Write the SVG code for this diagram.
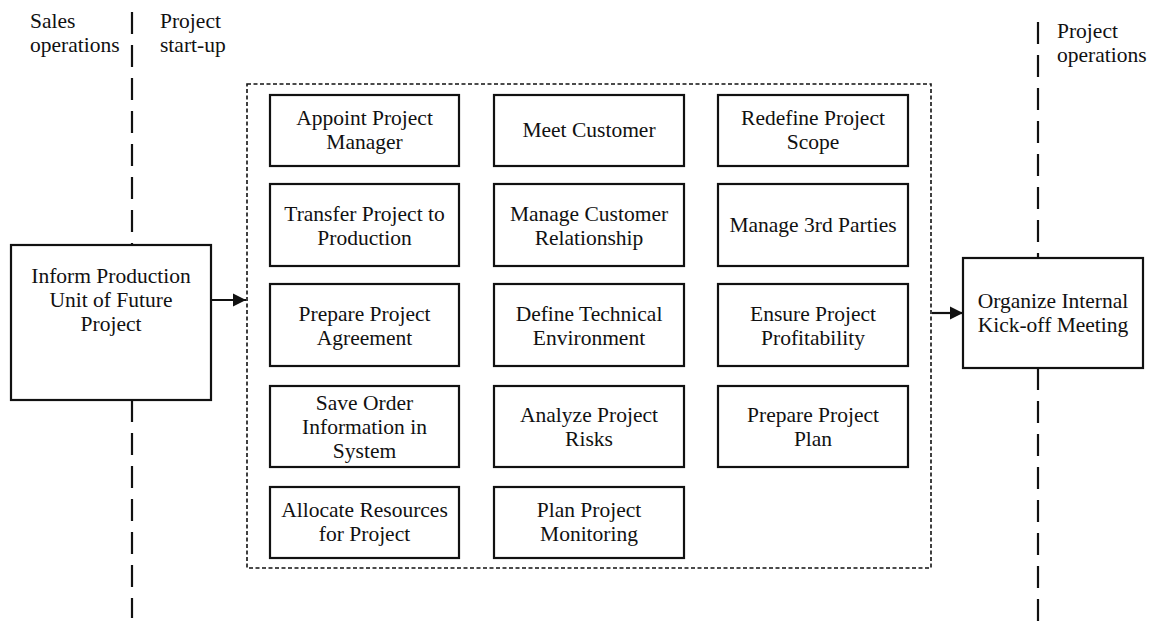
<svg xmlns="http://www.w3.org/2000/svg" width="1150" height="625" viewBox="0 0 1150 625">
  <defs>
    <style>
      text { font-family: "Liberation Serif", "Times New Roman", serif; font-size: 21.5px; fill: #111; }
      .c { text-anchor: middle; }
      .box { fill: #fff; stroke: #111; stroke-width: 2.2; }
      .lane { stroke: #111; stroke-width: 2.2; stroke-dasharray: 22 11; fill: none; }
      .group { fill: none; stroke: #111; stroke-width: 1.6; stroke-dasharray: 4 2.5; }
      .arrow { stroke: #111; stroke-width: 2.2; fill: none; marker-end: url(#head); }
    </style>
    <marker id="head" viewBox="0 0 10 10" refX="10" refY="5" markerWidth="6" markerHeight="6" markerUnits="strokeWidth" orient="auto">
      <path d="M0,0 L10,5 L0,10 Z" fill="#111"/>
    </marker>
  </defs>

  <rect width="1150" height="625" fill="#fff"/>

  <!-- phase boundaries -->
  <g id="lanes">
    <line class="lane" x1="132" y1="12" x2="132" y2="245"/>
    <line class="lane" x1="132" y1="400" x2="132" y2="618"/>
    <line class="lane" x1="1038" y1="22" x2="1038" y2="258"/>
    <line class="lane" x1="1038" y1="368" x2="1038" y2="625"/>
  </g>

  <!-- phase labels -->
  <g id="labels">
    <text x="30" y="28">Sales</text>
    <text x="30" y="52">operations</text>
    <text x="160" y="28">Project</text>
    <text x="160" y="52">start-up</text>
    <text x="1057" y="38">Project</text>
    <text x="1057" y="62">operations</text>
  </g>

  <!-- start-up activity group -->
  <rect id="startup-group" class="group" x="247" y="84" width="684" height="484"/>

  <g id="connectors">
    <line class="arrow" x1="212" y1="300" x2="246" y2="300"/>
    <line class="arrow" x1="932" y1="313" x2="963" y2="313"/>
  </g>

  <g id="inform-production">
    <rect class="box" x="11" y="245" width="200" height="155"/>
    <text class="c" x="111" y="283">Inform Production</text>
    <text class="c" x="111" y="307">Unit of Future</text>
    <text class="c" x="111" y="331">Project</text>
  </g>

  <g id="kickoff-meeting">
    <rect class="box" x="963" y="258" width="180" height="110"/>
    <text class="c" x="1053" y="308">Organize Internal</text>
    <text class="c" x="1053" y="332">Kick-off Meeting</text>
  </g>

  <!-- column 1 -->
  <g id="appoint-pm">
    <rect class="box" x="270" y="95" width="189" height="71"/>
    <text class="c" x="364.5" y="125">Appoint Project</text>
    <text class="c" x="364.5" y="149">Manager</text>
  </g>
  <g id="transfer-project">
    <rect class="box" x="270" y="184" width="189" height="82"/>
    <text class="c" x="364.5" y="221">Transfer Project to</text>
    <text class="c" x="364.5" y="245">Production</text>
  </g>
  <g id="prepare-agreement">
    <rect class="box" x="270" y="284" width="189" height="82"/>
    <text class="c" x="364.5" y="321">Prepare Project</text>
    <text class="c" x="364.5" y="345">Agreement</text>
  </g>
  <g id="save-order">
    <rect class="box" x="270" y="386" width="189" height="81"/>
    <text class="c" x="364.5" y="410">Save Order</text>
    <text class="c" x="364.5" y="434">Information in</text>
    <text class="c" x="364.5" y="458">System</text>
  </g>
  <g id="allocate-resources">
    <rect class="box" x="270" y="487" width="189" height="71"/>
    <text class="c" x="364.5" y="517">Allocate Resources</text>
    <text class="c" x="364.5" y="541">for Project</text>
  </g>

  <!-- column 2 -->
  <g id="meet-customer">
    <rect class="box" x="494" y="95" width="190" height="71"/>
    <text class="c" x="589" y="137">Meet Customer</text>
  </g>
  <g id="manage-relationship">
    <rect class="box" x="494" y="184" width="190" height="82"/>
    <text class="c" x="589" y="221">Manage Customer</text>
    <text class="c" x="589" y="245">Relationship</text>
  </g>
  <g id="define-environment">
    <rect class="box" x="494" y="284" width="190" height="82"/>
    <text class="c" x="589" y="321">Define Technical</text>
    <text class="c" x="589" y="345">Environment</text>
  </g>
  <g id="analyze-risks">
    <rect class="box" x="494" y="386" width="190" height="81"/>
    <text class="c" x="589" y="422">Analyze Project</text>
    <text class="c" x="589" y="446">Risks</text>
  </g>
  <g id="plan-monitoring">
    <rect class="box" x="494" y="487" width="190" height="71"/>
    <text class="c" x="589" y="517">Plan Project</text>
    <text class="c" x="589" y="541">Monitoring</text>
  </g>

  <!-- column 3 -->
  <g id="redefine-scope">
    <rect class="box" x="718" y="95" width="190" height="71"/>
    <text class="c" x="813" y="125">Redefine Project</text>
    <text class="c" x="813" y="149">Scope</text>
  </g>
  <g id="manage-3rd-parties">
    <rect class="box" x="718" y="184" width="190" height="82"/>
    <text class="c" x="813" y="232">Manage 3rd Parties</text>
  </g>
  <g id="ensure-profitability">
    <rect class="box" x="718" y="284" width="190" height="82"/>
    <text class="c" x="813" y="321">Ensure Project</text>
    <text class="c" x="813" y="345">Profitability</text>
  </g>
  <g id="prepare-plan">
    <rect class="box" x="718" y="386" width="190" height="81"/>
    <text class="c" x="813" y="422">Prepare Project</text>
    <text class="c" x="813" y="446">Plan</text>
  </g>
</svg>
